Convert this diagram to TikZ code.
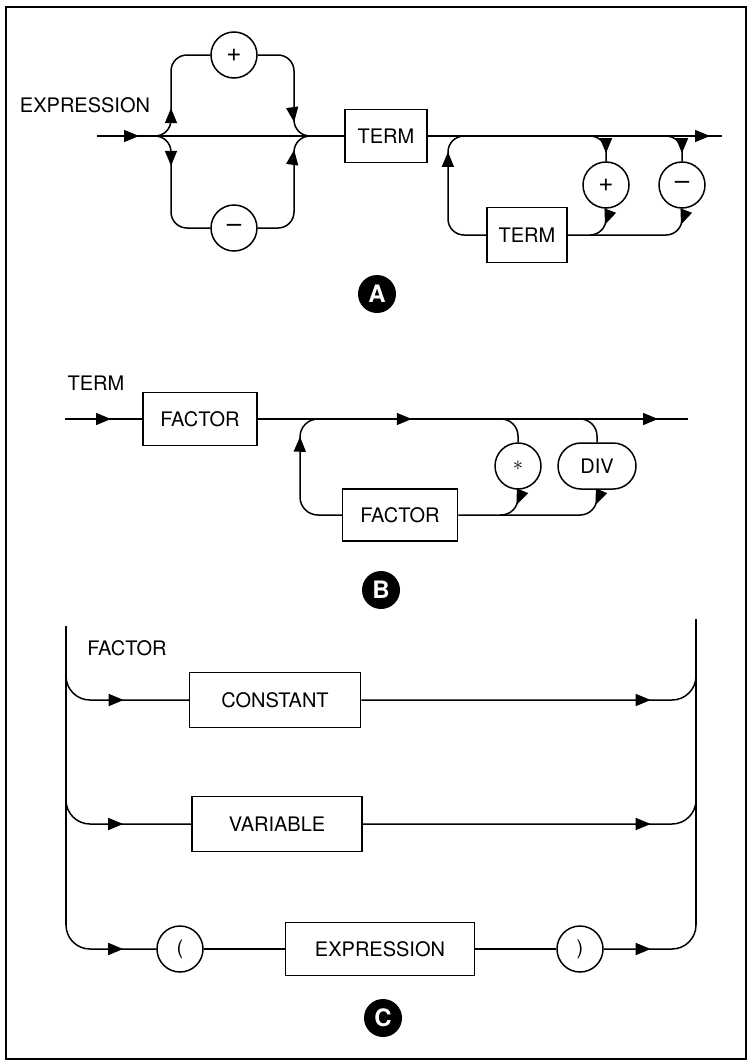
\documentclass[tikz,border=0pt]{standalone}
\usepackage{fontspec}
\setmainfont{TeX Gyre Heros}
\usetikzlibrary{arrows.meta,decorations.markings,shapes.misc}
\begin{document}
\begin{tikzpicture}[x=1pt,y=-1pt,
  ln/.style={line width=1.5pt},
  >={Triangle[length=15pt,width=12pt]},
  txt/.style={font=\fontsize{20}{22}\selectfont},
  box/.style={draw, line width=1.5pt, inner sep=0pt, minimum height=53pt, txt},
  circ/.style={draw, circle, line width=1.5pt, minimum size=46pt, inner sep=0pt, txt},
  sgn/.style={circ, font=\fontsize{26}{28}\selectfont},
  stad/.style={draw, rounded rectangle, line width=1.5pt, minimum width=78pt, minimum height=46pt, inner sep=0pt, txt},
  lbl/.style={inner sep=0pt, txt},
  badge/.style={circle, fill=black, minimum size=38pt, inner sep=0pt, text=white, font=\fontsize{24}{26}\selectfont\bfseries},
  ma/.style={postaction={decorate,decoration={markings,mark=at position #1 with {\arrow{>}}}}},
  rc/.style={rounded corners=#1},
]
\useasboundingbox (0,0) rectangle (751,1063);
\draw[line width=2.5pt] (6,7) rectangle (746,1059);

% ---------------- A: EXPRESSION
\node[lbl] (exprlbl) at (85,105) {EXPRESSION};
\coordinate (a0) at (97,136);
\coordinate (asplit) at (155,136);
\coordinate (amerge) at (310,136);
\node[sgn] (aplus) at (234,55) {+};
\node[sgn] (aminus) at (234,228) {–};
\node[box, minimum width=82pt] (aterm) at (386,136) {TERM};
\draw[ln, ma=42pt] (a0) -- (aterm.west);
\draw[ln, rc=16, ma=37pt] (asplit) -| (171,55) -- (aplus.west);
\draw[ln, rc=16, ma=39pt] (asplit) -| (171,228) -- (aminus.west);
\draw[ln, rc=16, ma=-23pt] (aplus.east) -| (294,136) -- (amerge);
\draw[ln, rc=16, ma=-23pt] (aminus.east) -| (294,136) -- (amerge);

\coordinate (aend) at (722,136);
\coordinate (aret) at (466,136);
\coordinate (apb) at (590,136);
\coordinate (amb) at (666,136);
\coordinate (ajoin) at (590,235);
\node[sgn] (aplus2) at (606,185) {+};
\node[sgn] (aminus2) at (682,185) {–};
\node[box, minimum width=80pt, minimum height=55pt] (aterm2) at (527,235) {TERM};
\draw[ln, ma=-12pt] (aterm.east) -- (aend);
\draw[ln, rc=16, ma=-27pt] (aterm2.west) -| (448,136) -- (aret);
\draw[ln, rc=16, ma=-8pt] (apb) -| (aplus2.north);
\draw[ln, rc=16, ma=16pt] (aplus2.south) |- (aterm2.east);
\draw[ln, rc=16, ma=-8pt] (amb) -| (aminus2.north);
\draw[ln, rc=16, ma=16pt] (aminus2.south) |- (ajoin);

\node[badge] (badgeA) at (377,294) {A};

% ---------------- B: TERM
\node[lbl] (termlbl) at (96,383) {TERM};
\coordinate (b0) at (65,419);
\node[box, minimum width=114pt] (bfac) at (200,419) {FACTOR};
\coordinate (bend) at (688,419);
\coordinate (bret) at (318,419);
\coordinate (bsb) at (500,419);
\coordinate (bdb) at (580,419);
\coordinate (bjoin) at (500,515);
\node[box, minimum width=115pt, minimum height=52pt] (bfac2) at (400,515) {FACTOR};
\node[circ] (bstar) at (518,466) {$\ast$};
\node[stad] (bdiv) at (597,466) {DIV};
\draw[ln, ma=46pt] (b0) -- (bfac.west);
\draw[ln, ma=154pt, ma=-30pt] (bfac.east) -- (bend);
\draw[ln, rc=18, ma=-28pt] (bfac2.west) -| (300,419) -- (bret);
\draw[ln, rc=17] (bsb) -| (bstar.north);
\draw[ln, rc=17, ma=15pt] (bstar.south) |- (bfac2.east);
\draw[ln, rc=17] (bdb) -| (bdiv.north);
\draw[ln, rc=17, ma=15pt] (bdiv.south) |- (bjoin);

\node[badge] (badgeB) at (381,590) {B};

% ---------------- C: FACTOR
\node[lbl] (factlbl) at (127,648) {FACTOR};
\coordinate (cLtop) at (66,626);
\coordinate (cRtop) at (696,619);
\coordinate (cL1) at (66,676);
\coordinate (cL2) at (66,800);
\coordinate (cL3) at (66,925);
\coordinate (cR1) at (696,676);
\coordinate (cR2) at (696,800);
\coordinate (cR3) at (696,925);
\node[box, minimum width=171pt, minimum height=55pt] (cconst) at (275,700) {CONSTANT};
\node[box, minimum width=170pt, minimum height=55pt] (cvar) at (277,824) {VARIABLE};
\node[circ] (cparL) at (180,949) {(};
\node[box, minimum width=189pt] (cexpr) at (380,949) {EXPRESSION};
\node[circ] (cparR) at (580,949) {)};
\draw[ln] (cLtop) -- (cL3);
\draw[ln] (cRtop) -- (cR3);
\draw[ln, rc=24, ma=-65pt] (cL1) |- (cconst.west);
\draw[ln, rc=24, ma=-59pt] (cconst.east) -| (cR1);
\draw[ln, rc=24, ma=-68pt] (cL2) |- (cvar.west);
\draw[ln, rc=24, ma=-59pt] (cvar.east) -| (cR2);
\draw[ln, rc=24, ma=-33pt] (cL3) |- (cparL.west);
\draw[ln] (cparL.east) -- (cexpr.west);
\draw[ln] (cexpr.east) -- (cparR.west);
\draw[ln, rc=24, ma=-59pt] (cparR.east) -| (cR3);

\node[badge] (badgeC) at (383,1018) {C};
\end{tikzpicture}
\end{document}
